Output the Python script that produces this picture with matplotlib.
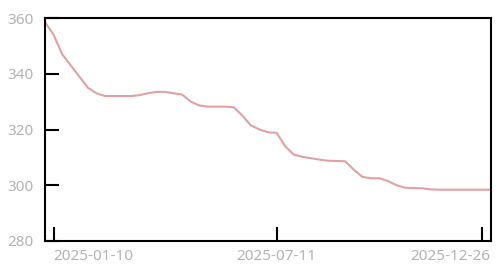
import matplotlib
matplotlib.use("Agg")
import matplotlib.pyplot as plt
import matplotlib.transforms as mtransforms
import numpy as np
import pandas as pd

dates = pd.date_range("2025-01-03", "2026-01-02", freq="7D")
values = [358.5, 354, 347, 343, 339, 335, 333, 332, 332, 332,
          332, 332.3, 333, 333.5, 333.5, 333, 332.5, 330, 328.6, 328.2,
          328.2, 328.2, 328, 325, 321.5, 320, 319, 318.8, 314, 311,
          310.2, 309.7, 309.2, 308.8, 308.7, 308.6, 305.6, 303, 302.5, 302.5,
          301.5, 300, 299.1, 299, 298.9, 298.5, 298.4, 298.4, 298.4, 298.4,
          298.4, 298.4, 298.4]
tick_dates = ["2025-01-10", "2025-07-11", "2025-12-26"]
y_ticks = [280, 300, 320, 340, 360]

plt.rcParams['font.family'] = ['Noto Sans', 'DejaVu Sans']

fig = plt.figure(figsize=(5.01, 2.77), dpi=100)
ax = fig.add_axes([45/501, 1-241/277, (491-45)/501, (241-18)/277])

ax.plot(dates, values, color='#e3a0a3', lw=1.5, solid_joinstyle='round')

ax.set_xlim(dates[0], dates[-1])
ax.set_ylim(280, 360)
ax.set_yticks(y_ticks)
ax.set_xticks(pd.to_datetime(tick_dates))
ax.set_xticklabels(tick_dates)

for s in ax.spines.values():
    s.set_linewidth(1.5)
    s.set_color('black')

ax.tick_params(axis='both', direction='in', length=10, width=1.5,
               colors='black', labelcolor='#b3b3b3', labelsize=11)
ax.tick_params(axis='x', pad=6)
ax.tick_params(axis='y', pad=8)

labels = ax.get_xticklabels()
labels[0].set_ha('left')
labels[2].set_ha('right')
labels[2].set_transform(labels[2].get_transform() +
                        mtransforms.ScaledTranslation(8/100, 0, fig.dpi_scale_trans))

fig.savefig("out.png", dpi=100)
